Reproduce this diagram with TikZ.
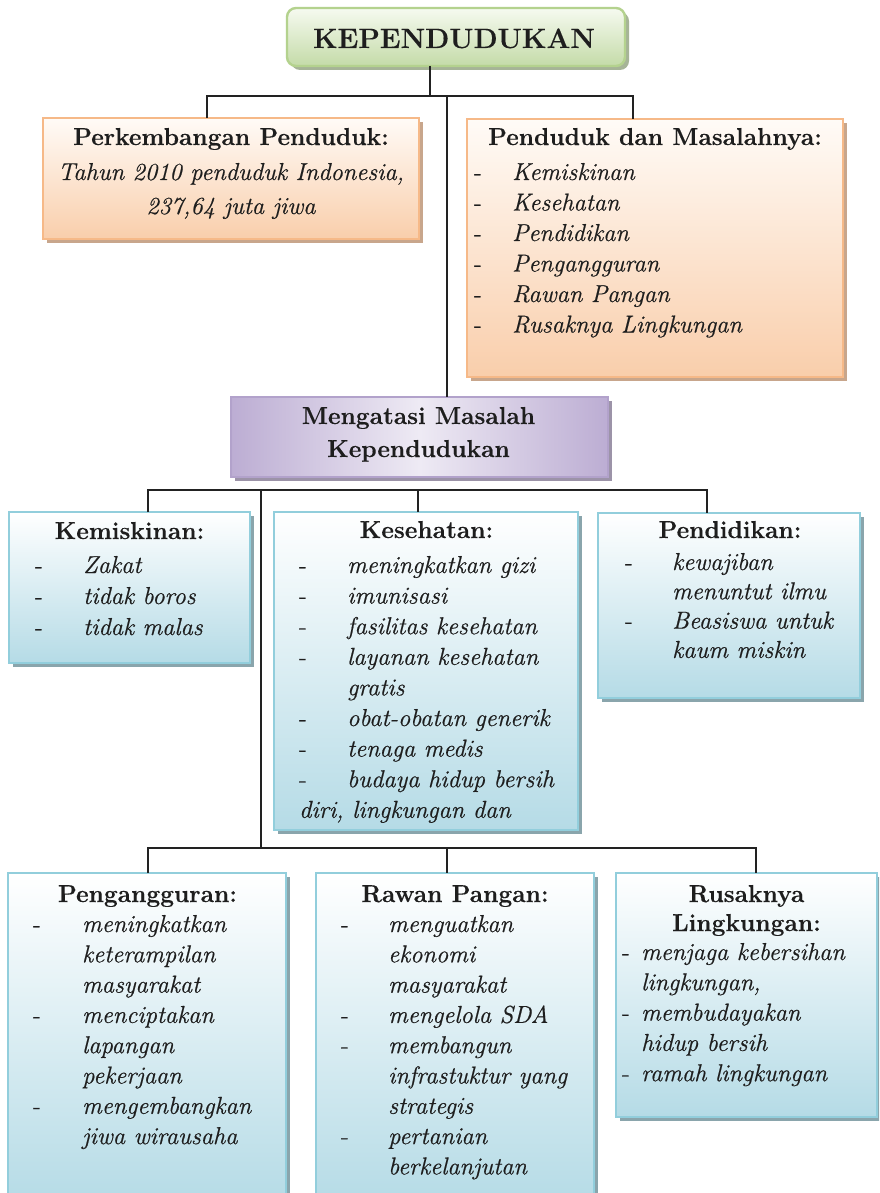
\documentclass[tikz,border=0pt]{standalone}
\usepackage{fontspec}
\setmainfont{Latin Modern Roman}[UprightFeatures={FakeBold=0.6}, ItalicFeatures={FakeBold=0.6}, BoldFeatures={FakeBold=0.3}]
\usepackage{array}
\usetikzlibrary{shadows}
\definecolor{grnT}{HTML}{F6FAF0}
\definecolor{grnD}{HTML}{C4DBA8}
\definecolor{grnB}{HTML}{B4D28E}
\definecolor{grnS}{HTML}{A6B497}
\definecolor{orT}{HTML}{FFFBF7}
\definecolor{orD}{HTML}{F9CEAB}
\definecolor{orB}{HTML}{F6B988}
\definecolor{orS}{HTML}{C8A68C}
\definecolor{puD}{HTML}{BCADD3}
\definecolor{puL}{HTML}{EEEAF4}
\definecolor{puB}{HTML}{B2A2CB}
\definecolor{puS}{HTML}{9C93A8}
\definecolor{blT}{HTML}{FFFFFF}
\definecolor{blD}{HTML}{B5DBE6}
\definecolor{blB}{HTML}{92CEDC}
\definecolor{blS}{HTML}{8AA5AC}
\definecolor{lineC}{HTML}{222222}
\definecolor{txtC}{HTML}{1E1E1E}
\newcommand{\dl}[1]{-&#1\\}
\newcommand{\cl}[1]{&#1\\}
\begin{document}
\begin{tikzpicture}[x=1pt,y=-1pt,
  conn/.style={draw=lineC, line width=1.6pt},
  box/.style={rectangle, inner sep=0pt, outer sep=0pt, line width=2.4pt},
  greenbox/.style={box, rounded corners=9pt, draw=grnB, top color=grnT, bottom color=grnD,
    drop shadow={shadow xshift=4pt, shadow yshift=-4pt, fill=grnS, opacity=1}},
  orangebox/.style={box, draw=orB, top color=orT, bottom color=orD,
    drop shadow={shadow xshift=4pt, shadow yshift=-4pt, fill=orS, opacity=1}},
  purplebox/.style={box, draw=puB, left color=puD, right color=puD, middle color=puL,
    drop shadow={shadow xshift=4pt, shadow yshift=-4pt, fill=puS, opacity=1}},
  bluebox/.style={box, draw=blB, top color=blT, bottom color=blD,
    drop shadow={shadow xshift=4pt, shadow yshift=-4pt, fill=blS, opacity=1}},
  ttl/.style={font=\fontsize{24.5}{30.5}\selectfont\bfseries, text=txtC, inner sep=0pt, anchor=base},
  lst/.style={font=\fontsize{24.5}{30.5}\selectfont, text=txtC, inner sep=0pt, anchor=base west},
]
\useasboundingbox (0,0) rectangle (879,1193);
\clip (0,0) rectangle (879,1193);
\fill[white] (0,0) rectangle (879,1193);

% boxes
\node[greenbox, minimum width=338pt, minimum height=58pt] (top) at (456,37) {};
\node[orangebox, minimum width=376pt, minimum height=121pt] (ppd) at (231,178.5) {};
\node[orangebox, minimum width=376pt, minimum height=258pt] (pdm) at (655,248) {};
\node[purplebox, minimum width=377pt, minimum height=80pt] (mmk) at (419.5,437) {};
\node[bluebox, minimum width=241pt, minimum height=151pt] (kms) at (129.5,587.5) {};
\node[bluebox, minimum width=304pt, minimum height=318pt] (ksh) at (426,671) {};
\node[bluebox, minimum width=262pt, minimum height=185pt] (pdk) at (729,605.5) {};
\node[bluebox, minimum width=278pt, minimum height=330pt] (pgg) at (147,1038) {};
\node[bluebox, minimum width=278pt, minimum height=330pt] (rwp) at (455,1038) {};
\node[bluebox, minimum width=261pt, minimum height=244pt] (rsl) at (746.5,995) {};

% connectors level 1
\coordinate (h1T) at (430,96);
\coordinate (h1L) at (207,96);
\coordinate (h1R) at (633,96);
\coordinate (h1M) at (447,96);
\draw[conn] (top.south -| h1T) -- (h1T);
\draw[conn] (ppd.north -| h1L) |- (h1R) -- (pdm.north -| h1R);
\draw[conn] (h1M) -- (mmk.north -| h1M);

% connectors level 2
\coordinate (h2L) at (148,490);
\coordinate (h2R) at (707,490);
\coordinate (h2K) at (418,490);
\coordinate (h2S) at (261,490);
\draw[conn] (kms.north -| h2L) |- (h2R) -- (pdk.north -| h2R);
\draw[conn] (h2K) -- (ksh.north -| h2K);

% connectors level 3
\coordinate (h3S) at (261,848);
\coordinate (h3L) at (148,848);
\coordinate (h3R) at (756,848);
\coordinate (h3M) at (447,848);
\draw[conn] (h2S) -- (h3S);
\draw[conn] (pgg.north -| h3L) |- (h3R) -- (rsl.north -| h3R);
\draw[conn] (h3M) -- (rwp.north -| h3M);

% texts
\node[font=\fontsize{28}{34}\selectfont\bfseries, text=txtC, inner sep=0pt, anchor=base] (topT) at (454,48) {KEPENDUDUKAN};

\node[ttl] (ppdT) at (231,145) {Perkembangan Penduduk:};
\node[lst, anchor=base] (ppdL) at (231,180) {\itshape\begin{tabular}[t]{@{}c@{}}Tahun 2010 penduduk Indonesia,\\[3.5pt] 237,64 juta jiwa\end{tabular}};

\node[ttl] (pdmT) at (655,145) {Penduduk dan Masalahnya:};
\node[lst] (pdmL) at (474,180) {\begin{tabular}[t]{@{}p{38pt}@{}>{\itshape}l@{}}
\dl{Kemiskinan}\dl{Kesehatan}\dl{Pendidikan}\dl{Pengangguran}\dl{Rawan Pangan}\dl{Rusaknya Lingkungan}
\end{tabular}};

\node[ttl] (mmkT) at (418.5,424) {\begin{tabular}[t]{@{}c@{}}Mengatasi Masalah\\[2.5pt] Kependudukan\end{tabular}};

\node[ttl] (kmsT) at (129.5,539) {Kemiskinan:};
\node[lst, font=\fontsize{24.5}{31}\selectfont] (kmsL) at (35,573) {\begin{tabular}[t]{@{}p{48pt}@{}>{\itshape}l@{}}
\dl{Zakat}\dl{tidak boros}\dl{tidak malas}
\end{tabular}};

\node[ttl] (kshT) at (426.5,538) {Kesehatan:};
\node[lst, font=\fontsize{24.5}{30.6}\selectfont] (kshL) at (299,573) {\begin{tabular}[t]{@{}p{48pt}@{}>{\itshape}l@{}}
\dl{meningkatkan gizi}\dl{imunisasi}\dl{fasilitas kesehatan}\dl{layanan kesehatan}\cl{gratis}\dl{obat-obatan generik}\dl{tenaga medis}\dl{budaya hidup bersih}
\multicolumn{2}{@{}l@{}}{\itshape diri, lingkungan dan}
\end{tabular}};

\node[ttl] (pdkT) at (730,538) {Pendidikan:};
\node[lst, font=\fontsize{24.5}{29.3}\selectfont] (pdkL) at (625,570) {\begin{tabular}[t]{@{}p{47pt}@{}>{\itshape}l@{}}
\dl{kewajiban}\cl{menuntut ilmu}\dl{Beasiswa untuk}\cl{kaum miskin}
\end{tabular}};

\node[ttl] (pggT) at (147.5,902) {Pengangguran:};
\node[lst, font=\fontsize{24.5}{30.3}\selectfont] (pggL) at (33,932) {\begin{tabular}[t]{@{}p{49pt}@{}>{\itshape}l@{}}
\dl{meningkatkan}\cl{keterampilan}\cl{masyarakat}\dl{menciptakan}\cl{lapangan}\cl{pekerjaan}\dl{mengembangkan}\cl{jiwa wirausaha}
\end{tabular}};

\node[ttl] (rwpT) at (455,902) {Rawan Pangan:};
\node[lst, font=\fontsize{24.5}{30.3}\selectfont] (rwpL) at (341,932) {\begin{tabular}[t]{@{}p{47pt}@{}>{\itshape}l@{}}
\dl{menguatkan}\cl{ekonomi}\cl{masyarakat}\dl{mengelola SDA}\dl{membangun}\cl{infrastuktur yang}\cl{strategis}\dl{pertanian}\cl{berkelanjutan}
\end{tabular}};

\node[ttl, font=\fontsize{24.5}{29}\selectfont\bfseries] (rslT) at (746.5,902) {\begin{tabular}[t]{@{}c@{}}Rusaknya\\ Lingkungan:\end{tabular}};
\node[lst, font=\fontsize{24.5}{30.3}\selectfont] (rslL) at (622,960) {\begin{tabular}[t]{@{}p{19pt}@{}>{\itshape}l@{}}
\dl{menjaga kebersihan}\cl{lingkungan,}\dl{membudayakan}\cl{hidup bersih}\dl{ramah lingkungan}
\end{tabular}};
\end{tikzpicture}
\end{document}
